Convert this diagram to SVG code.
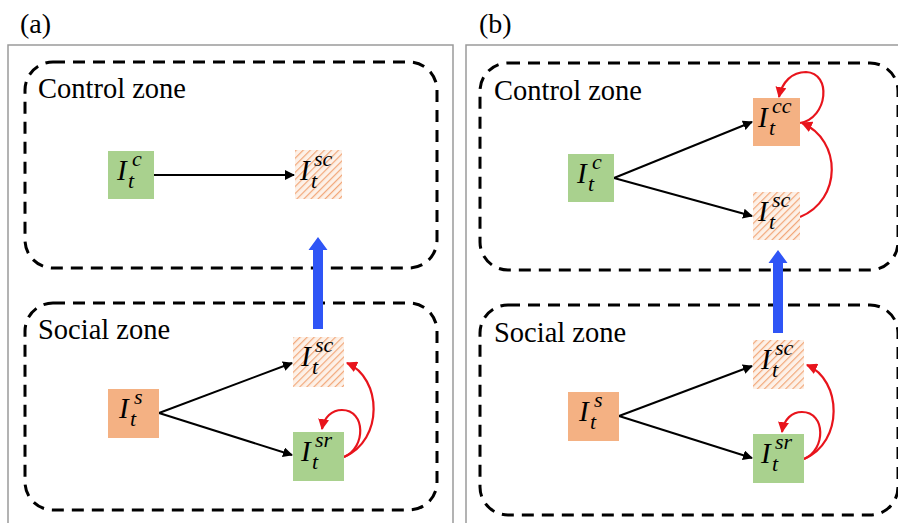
<svg xmlns="http://www.w3.org/2000/svg" width="898" height="523" viewBox="0 0 898 523">
  <style>
    .frame { fill: none; stroke: #9a9a9a; stroke-width: 1.5; }
    .zone { fill: none; stroke: #000; stroke-width: 3; stroke-dasharray: 12 8; }
    .title { font-family: "Liberation Serif", serif; font-size: 28.5px; fill: #000; }
    .panel { font-family: "Liberation Serif", serif; font-size: 28px; fill: #000; }
    .green { fill: #a9d18e; }
    .orange { fill: #f4b183; }
    .hatch { fill: url(#hatch); }
    .mI { font-family: "Liberation Serif", serif; font-style: italic; font-size: 29px; fill: #000; }
    .ms { font-family: "Liberation Serif", serif; font-style: italic; font-size: 22px; fill: #000; }
    .edge { fill: none; stroke: #000; stroke-width: 2; marker-end: url(#arrowK); }
    .loop { fill: none; stroke: #e8141c; stroke-width: 2.2; marker-end: url(#arrowR); }
    .lift { fill: #2f55f6; }
  </style>
  <defs>
    <pattern id="hatch" patternUnits="userSpaceOnUse" width="5" height="5" patternTransform="rotate(45)">
      <rect width="5" height="5" fill="#fdf1e8"/>
      <line x1="0" y1="0" x2="0" y2="5" stroke="#f2a779" stroke-width="2.4"/>
    </pattern>
    <marker id="arrowK" viewBox="0 0 10 10" refX="9" refY="5" markerWidth="5" markerHeight="5" orient="auto" markerUnits="strokeWidth">
      <path d="M0,0 L10,5 L0,10 z" fill="#000"/>
    </marker>
    <marker id="arrowR" viewBox="0 0 10 10" refX="9" refY="5" markerWidth="5" markerHeight="5" orient="auto" markerUnits="strokeWidth">
      <path d="M0,0 L10,5 L0,10 z" fill="#e8141c"/>
    </marker>
  </defs>

  <!-- panel frames and captions -->
  <text class="panel" x="20" y="33">(a)</text>
  <text class="panel" x="479" y="33">(b)</text>
  <rect class="frame" x="8" y="45" width="445" height="495"/>
  <rect class="frame" x="466" y="45" width="445" height="495"/>

  <!-- zones -->
  <g id="zone-a-control">
    <rect class="zone" x="25" y="62" width="412" height="206" rx="28"/>
    <text class="title" x="38" y="98">Control zone</text>
  </g>
  <g id="zone-a-social">
    <rect class="zone" x="25" y="303" width="412" height="207" rx="28"/>
    <text class="title" x="38" y="339">Social zone</text>
  </g>
  <g id="zone-b-control">
    <rect class="zone" x="480" y="63" width="418" height="207" rx="28"/>
    <text class="title" x="494" y="100">Control zone</text>
  </g>
  <g id="zone-b-social">
    <rect class="zone" x="480" y="305" width="418" height="210" rx="28"/>
    <text class="title" x="494" y="342">Social zone</text>
  </g>

  <!-- connectors -->
  <g id="connectors">
    <!-- panel (a) -->
    <line class="edge" x1="154" y1="175" x2="294" y2="175"/>
    <line class="edge" x1="159" y1="413" x2="292" y2="363"/>
    <line class="edge" x1="159" y1="413" x2="292" y2="455"/>
    <path class="loop" d="M344,457 C384,440 382,378 347,363"/>
    <path class="loop" d="M344,457 C366,448 366,410 342,410 C332,410 324,417 322,429"/>
    <path class="lift" d="M313,329 L313,250 L308.5,250 L318,237 L327.5,250 L323,250 L323,329 Z"/>
    <!-- panel (b) -->
    <line class="edge" x1="614" y1="178" x2="752" y2="122"/>
    <line class="edge" x1="614" y1="178" x2="752" y2="216"/>
    <path class="loop" d="M800,217 C842,200 842,140 802,123"/>
    <path class="loop" d="M800,123 C828,118 832,73 806,72 C792,72 782,82 779,97"/>
    <line class="edge" x1="619" y1="416" x2="752" y2="366"/>
    <line class="edge" x1="619" y1="416" x2="752" y2="458"/>
    <path class="loop" d="M804,459 C844,442 842,380 807,365"/>
    <path class="loop" d="M804,459 C826,450 826,412 802,412 C792,412 784,419 782,432"/>
    <path class="lift" d="M773,333 L773,263 L768.5,263 L778,250 L787.5,263 L783,263 L783,333 Z"/>
  </g>

  <!-- panel (a) nodes -->
  <g id="a-ctrl-c">
    <rect class="green" x="108" y="151" width="46" height="48"/>
    <text class="mI" x="117" y="180">I</text>
    <text class="ms" x="128" y="188">t</text>
    <text class="ms" x="132" y="166">c</text>
  </g>
  <g id="a-ctrl-sc">
    <rect class="hatch" x="295" y="150" width="47" height="49"/>
    <text class="mI" x="300" y="180">I</text>
    <text class="ms" x="311" y="188">t</text>
    <text class="ms" x="314" y="166">sc</text>
  </g>
  <g id="a-soc-s">
    <rect class="orange" x="108" y="389" width="51" height="49"/>
    <text class="mI" x="119" y="418">I</text>
    <text class="ms" x="130" y="426">t</text>
    <text class="ms" x="134" y="404">s</text>
  </g>
  <g id="a-soc-sc">
    <rect class="hatch" x="293" y="337" width="51" height="50"/>
    <text class="mI" x="301" y="366">I</text>
    <text class="ms" x="312" y="374">t</text>
    <text class="ms" x="315" y="352">sc</text>
  </g>
  <g id="a-soc-sr">
    <rect class="green" x="293" y="432" width="51" height="49"/>
    <text class="mI" x="301" y="461">I</text>
    <text class="ms" x="312" y="469">t</text>
    <text class="ms" x="315" y="447">sr</text>
  </g>

  <!-- panel (b) nodes -->
  <g id="b-ctrl-c">
    <rect class="green" x="568" y="154" width="46" height="48"/>
    <text class="mI" x="577" y="183">I</text>
    <text class="ms" x="588" y="191">t</text>
    <text class="ms" x="592" y="169">c</text>
  </g>
  <g id="b-ctrl-cc">
    <rect class="orange" x="753" y="98" width="47" height="48"/>
    <text class="mI" x="758" y="127">I</text>
    <text class="ms" x="769" y="135">t</text>
    <text class="ms" x="772" y="113">cc</text>
  </g>
  <g id="b-ctrl-sc">
    <rect class="hatch" x="753" y="192" width="47" height="48"/>
    <text class="mI" x="758" y="221">I</text>
    <text class="ms" x="769" y="229">t</text>
    <text class="ms" x="772" y="207">sc</text>
  </g>
  <g id="b-soc-s">
    <rect class="orange" x="568" y="392" width="51" height="49"/>
    <text class="mI" x="579" y="421">I</text>
    <text class="ms" x="590" y="429">t</text>
    <text class="ms" x="594" y="407">s</text>
  </g>
  <g id="b-soc-sc">
    <rect class="hatch" x="753" y="340" width="51" height="49"/>
    <text class="mI" x="761" y="369">I</text>
    <text class="ms" x="772" y="377">t</text>
    <text class="ms" x="775" y="355">sc</text>
  </g>
  <g id="b-soc-sr">
    <rect class="green" x="753" y="434" width="51" height="49"/>
    <text class="mI" x="761" y="463">I</text>
    <text class="ms" x="772" y="471">t</text>
    <text class="ms" x="775" y="449">sr</text>
  </g>
</svg>
